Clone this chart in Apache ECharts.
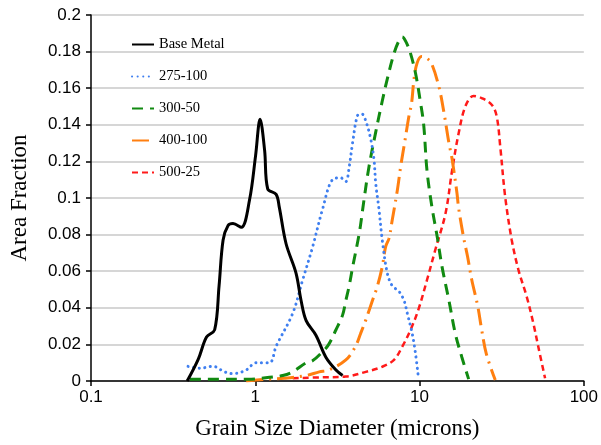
<!DOCTYPE html>
<html>
<head>
<meta charset="utf-8">
<script src="https://cdn.jsdelivr.net/npm/echarts@6/dist/echarts.min.js"></script>
<style>
html,body{margin:0;padding:0;background:#fff;}
#chart{width:601px;height:445px;}
</style>
</head>
<body>
<div id="chart"></div>
<script>
var seriesNames = ['Base Metal', '275-100', '300-50', '400-100', '500-25'];

var baseX = [0.385, 0.45, 0.505, 0.566, 0.602, 0.637, 0.683, 0.732, 0.822, 0.923, 1.004, 1.07, 1.14, 1.19, 1.34, 1.40, 1.54, 1.77, 1.90, 2.04, 2.34, 2.69, 3.10, 3.40];
var baseY = [0, 0.012, 0.024, 0.028, 0.052, 0.077, 0.085, 0.086, 0.084, 0.099, 0.123, 0.143, 0.126, 0.105, 0.102, 0.095, 0.075, 0.059, 0.044, 0.033, 0.025, 0.013, 0.006, 0.003];

var s275X = [0.39, 0.46, 0.553, 0.65, 0.732, 0.88, 1.01, 1.22, 1.34, 1.69, 1.94, 2.23, 2.57, 2.95, 3.32, 3.56, 3.73, 3.91, 4.19, 4.45, 4.71, 5.05, 5.28, 5.41, 5.66, 5.93, 6.36, 6.82, 7.49, 8.04, 8.42, 9.02, 9.45, 9.81];
var s275Y = [0.008, 0.007, 0.008, 0.005, 0.004, 0.006, 0.010, 0.010, 0.019, 0.037, 0.055, 0.073, 0.094, 0.110, 0.111, 0.109, 0.117, 0.130, 0.145, 0.146, 0.142, 0.132, 0.121, 0.108, 0.094, 0.077, 0.059, 0.052, 0.049, 0.044, 0.037, 0.026, 0.015, 0.003];

var s300X = [0.40, 0.6, 0.9, 1.22, 1.47, 1.69, 2.04, 2.23, 2.57, 2.80, 3.10, 3.40, 3.56, 3.73, 3.91, 4.30, 4.59, 4.92, 5.41, 5.93, 6.36, 6.99, 7.5, 7.85, 8.3, 8.81, 9.46, 10.14, 10.6, 11.1, 11.9, 12.8, 13.7, 15.1, 16.5, 18.1, 19.9];
var s300Y = [0.001, 0.001, 0.001, 0.002, 0.003, 0.005, 0.010, 0.011, 0.016, 0.020, 0.028, 0.036, 0.044, 0.052, 0.062, 0.081, 0.099, 0.117, 0.136, 0.153, 0.165, 0.179, 0.186, 0.188, 0.185, 0.179, 0.168, 0.152, 0.140, 0.115, 0.095, 0.079, 0.0625, 0.044, 0.026, 0.013, 0.001];

var s400X = [0.88, 1.2, 1.5, 2.04, 2.45, 2.8, 3.56, 4.07, 4.38, 4.71, 5.18, 5.53, 5.93, 6.22, 6.52, 6.82, 7.33, 7.67, 8.13, 8.61, 8.95, 9.24, 9.66, 10.28, 11.0, 11.8, 13.1, 14.0, 15.1, 15.8, 16.9, 17.3, 18.5, 19.6, 20.8, 22.6, 23.9, 25.5, 28.9];
var s400Y = [0.000, 0.001, 0.0015, 0.003, 0.005, 0.006, 0.0115, 0.0188, 0.026, 0.0334, 0.0443, 0.0516, 0.0625, 0.0734, 0.078, 0.088, 0.1044, 0.117, 0.1308, 0.1445, 0.152, 0.1646, 0.1737, 0.1773, 0.1765, 0.1737, 0.161, 0.148, 0.130, 0.121, 0.1026, 0.0944, 0.0789, 0.068, 0.0552, 0.041, 0.0279, 0.0148, 0.0005];

var s500X = [1.69, 2.5, 3.56, 4.71, 5.93, 6.99, 7.85, 8.81, 9.84, 11.1, 12.5, 14.4, 15.8, 17.3, 19.0, 21.3, 23.9, 27.5, 29.5, 31.0, 33.2, 36.4, 40.0, 44.9, 49.3, 52.8, 58.1];
var s500Y = [0.0015, 0.002, 0.0024, 0.005, 0.0078, 0.0115, 0.0188, 0.0279, 0.039, 0.0552, 0.072, 0.0917, 0.1154, 0.1354, 0.150, 0.1558, 0.1546, 0.151, 0.1445, 0.128, 0.1008, 0.0771, 0.0607, 0.0461, 0.0315, 0.0188, 0.0015];

function pairs(xs, ys) { return xs.map(function (x, i) { return [x, ys[i]]; }); }

var styles = [
  { color: '#000000', width: 3, type: 'solid' },
  { color: '#3f7ff0', width: 3, type: [0.1, 5.5], cap: 'round' },
  { color: '#118a11', width: 3, type: [11, 7] },
  { color: '#ff7f10', width: 3, type: [17, 6, 2, 6] },
  { color: '#ff1a1a', width: 2.5, type: [6, 4] }
];
var dataSets = [pairs(baseX, baseY), pairs(s275X, s275Y), pairs(s300X, s300Y), pairs(s400X, s400Y), pairs(s500X, s500Y)];

var chart = echarts.init(document.getElementById('chart'));
chart.setOption({
  animation: false,
  backgroundColor: '#ffffff',
  grid: { left: 91, right: 15, top: 15, bottom: 64 },
  legend: {
    orient: 'vertical', left: 126, top: 32,
    itemWidth: 22, itemHeight: 14, itemGap: 17,
    itemStyle: { opacity: 0 },
    textStyle: { fontFamily: 'Liberation Serif', fontSize: 14.5, color: '#000' },
    data: seriesNames
  },
  xAxis: {
    type: 'log', logBase: 10, min: 0.1, max: 100,
    name: 'Grain Size Diameter (microns)', nameLocation: 'middle', nameGap: 36,
    nameTextStyle: { fontFamily: 'Liberation Serif', fontSize: 23, color: '#000' },
    axisLine: { lineStyle: { color: '#000', width: 1.5 } },
    axisTick: { show: true, length: 5, lineStyle: { color: '#000', width: 1.5 } },
    minorTick: { show: false },
    splitLine: { show: false },
    axisLabel: { fontFamily: 'Liberation Sans', fontSize: 17, color: '#000', margin: 8,
      formatter: function (v) { return String(+v.toPrecision(3)); } }
  },
  yAxis: {
    type: 'value', min: 0, max: 0.2, interval: 0.02,
    name: 'Area Fraction', nameLocation: 'middle', nameGap: 60, nameRotate: 90,
    nameTextStyle: { fontFamily: 'Liberation Serif', fontSize: 23, color: '#000' },
    axisLine: { show: true, lineStyle: { color: '#000', width: 1.5 } },
    axisTick: { show: true, length: 5, lineStyle: { color: '#000', width: 1.5 } },
    splitLine: { show: true, lineStyle: { color: '#c8c8c8', width: 1.5 } },
    axisLabel: { fontFamily: 'Liberation Sans', fontSize: 17, color: '#000', margin: 10,
      formatter: function (v) { return String(+v.toFixed(2)); } }
  },
  series: seriesNames.map(function (n, i) {
    return {
      name: n, type: 'line', data: dataSets[i], smooth: 0.35, symbol: 'none',
      lineStyle: { color: styles[i].color, width: styles[i].width, type: styles[i].type, cap: styles[i].cap || 'butt' },
      itemStyle: { color: styles[i].color },
      z: 5 - i
    };
  })
});
</script>
</body>
</html>
